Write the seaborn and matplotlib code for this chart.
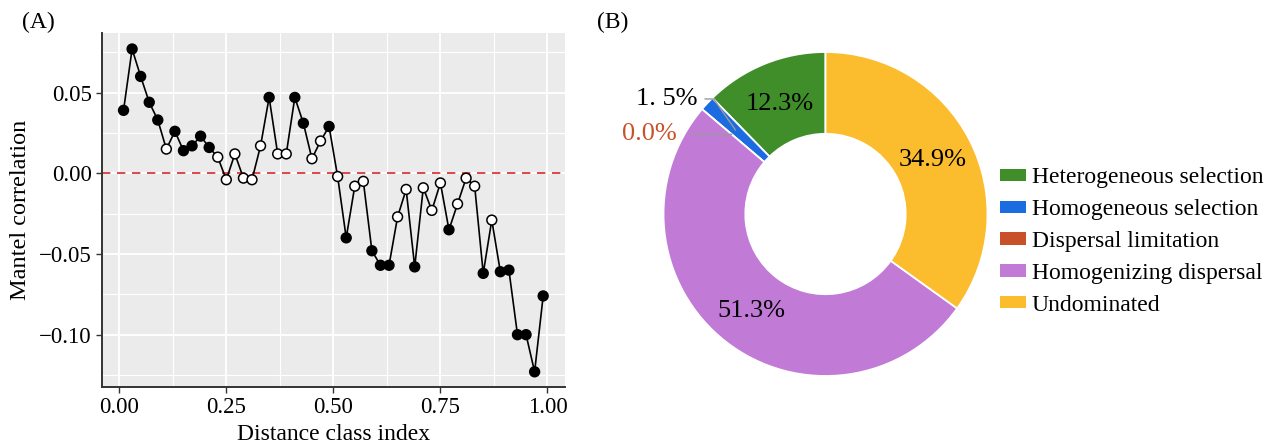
import matplotlib
matplotlib.use("Agg")
import matplotlib.pyplot as plt
from matplotlib.patches import Patch
from matplotlib.ticker import MultipleLocator, FuncFormatter
import numpy as np
import pandas as pd
import seaborn as sns

# ---- (A) Mantel correlogram ----
distance_class = [0.01, 0.03, 0.05, 0.07, 0.09, 0.11, 0.13, 0.15, 0.17, 0.19,
                  0.21, 0.23, 0.25, 0.27, 0.29, 0.31, 0.33, 0.35, 0.37, 0.39,
                  0.41, 0.43, 0.45, 0.47, 0.49, 0.51, 0.53, 0.55, 0.57, 0.59,
                  0.61, 0.63, 0.65, 0.67, 0.69, 0.71, 0.73, 0.75, 0.77, 0.79,
                  0.81, 0.83, 0.85, 0.87, 0.89, 0.91, 0.93, 0.95, 0.97, 0.99]
mantel_r = [0.039, 0.077, 0.060, 0.044, 0.033, 0.015, 0.026, 0.014, 0.017, 0.023,
            0.016, 0.010, -0.004, 0.012, -0.003, -0.004, 0.017, 0.047, 0.012, 0.012,
            0.047, 0.031, 0.009, 0.020, 0.029, -0.002, -0.040, -0.008, -0.005, -0.048,
            -0.057, -0.057, -0.027, -0.010, -0.058, -0.009, -0.023, -0.006, -0.035, -0.019,
            -0.003, -0.008, -0.062, -0.029, -0.061, -0.060, -0.100, -0.100, -0.123, -0.076]
significant = [1, 1, 1, 1, 1, 0, 1, 1, 1, 1,
               1, 0, 0, 0, 0, 0, 0, 1, 0, 0,
               1, 1, 0, 0, 1, 0, 1, 0, 0, 1,
               1, 1, 0, 0, 1, 0, 0, 0, 1, 0,
               0, 0, 1, 0, 1, 1, 1, 1, 1, 1]

# ---- (B) community assembly processes ----
processes = ["Heterogeneous selection", "Homogeneous selection",
             "Dispersal limitation", "Homogenizing dispersal", "Undominated"]
shares = [12.3, 1.5, 0.0, 51.3, 34.9]
process_colors = ["#3f8e2a", "#1b6ce0", "#c8512a", "#c27ad7", "#fbbd2e"]

sns.set_theme(style="darkgrid")
plt.rcParams["font.family"] = ["Liberation Serif", "DejaVu Serif"]
plt.rcParams["axes.unicode_minus"] = True
plt.rcParams["text.color"] = "black"
plt.rcParams["axes.labelcolor"] = "black"
plt.rcParams["xtick.color"] = "black"
plt.rcParams["ytick.color"] = "black"

fig = plt.figure(figsize=(12.76, 4.48), dpi=100)

# correlogram panel
ax = fig.add_axes([0.0797, 0.1355, 0.3631, 0.7908])
ax.set_facecolor("#ebebeb")
df = pd.DataFrame({"distance": distance_class, "mantel": mantel_r,
                   "sig": [bool(s) for s in significant]})
ax.axhline(0, color="#d42a2a", lw=1.2, ls=(0, (5, 4)), zorder=1.5)
sns.lineplot(data=df, x="distance", y="mantel", color="black", lw=1.2,
             ax=ax, zorder=2)
sns.scatterplot(data=df, x="distance", y="mantel", hue="sig",
                palette={True: "black", False: "white"}, edgecolor="black",
                linewidth=1.1, s=50, legend=False, ax=ax, zorder=3)

ax.xaxis.set_major_locator(MultipleLocator(0.25))
ax.xaxis.set_minor_locator(MultipleLocator(0.125))
ax.yaxis.set_major_locator(MultipleLocator(0.05))
ax.yaxis.set_minor_locator(MultipleLocator(0.025))
ax.xaxis.set_major_formatter(FuncFormatter(lambda v, pos: f"{v:.2f}"))
ax.yaxis.set_major_formatter(FuncFormatter(
    lambda v, pos: "0.00" if abs(v) < 1e-9 else f"{v:.2f}".replace("-", "\u2212")))
ax.set_xlim(-0.041, 1.041)
ax.set_ylim(-0.1326, 0.0869)
ax.grid(which="major", color="white", lw=1.3)
ax.grid(which="minor", color="white", lw=0.8)
for side in ["top", "right"]:
    ax.spines[side].set_visible(False)
for side in ["left", "bottom"]:
    ax.spines[side].set_visible(True)
    ax.spines[side].set_color("#333333")
    ax.spines[side].set_linewidth(1.4)
ax.tick_params(which="major", direction="out", length=4, width=1.0,
               color="#333333", labelsize=16.5, labelcolor="black", pad=3,
               bottom=True, left=True)
ax.tick_params(which="minor", length=0)
ax.set_xlabel("Distance class index", fontsize=17, labelpad=4)
ax.set_ylabel("Mantel correlation", fontsize=17.5, labelpad=6)
fig.text(0.017, 0.95, "(A)", fontsize=17, va="center", ha="left")

# donut panel
axp = fig.add_axes([663.5 / 1276, 72 / 448, 324 / 1276, 324 / 448])
wedges, _ = axp.pie(shares, colors=process_colors, startangle=90,
                    counterclock=True, radius=1.0,
                    wedgeprops=dict(width=0.505, edgecolor="white", linewidth=1.3))
axp.set_xlim(-1, 1)
axp.set_ylim(-1, 1)
axp.set_aspect("auto")
axp.axis("off")

# percentage labels inside the ring
total = sum(shares)
start = 90.0
mid_angles = []
for v in shares:
    span = 360.0 * v / total
    mid_angles.append(start + span / 2)
    start += span
for v, ang in zip(shares, mid_angles):
    if v >= 5:
        r = 0.745
        axp.text(r * np.cos(np.radians(ang)), r * np.sin(np.radians(ang)) - 0.01,
                 f"{v:.1f}%", ha="center", va="center", fontsize=19, color="black")

# callouts for the thin slices
blue_ang = np.radians(mid_angles[1])
axp.annotate("1. 5%", xy=(0.76 * np.cos(blue_ang), 0.76 * np.sin(blue_ang)),
             xytext=(-0.79, 0.71), ha="right", va="center", fontsize=19,
             color="black", annotation_clip=False,
             arrowprops=dict(arrowstyle="-", color="#9a9a9a", lw=1.0,
                             relpos=(1, 0.5), shrinkA=3, shrinkB=0,
                             connectionstyle="angle,angleA=0,angleB=-55,rad=0"))
red_ang = np.radians(mid_angles[2])
red_xy = (0.76 * np.cos(red_ang), 0.76 * np.sin(red_ang))
axp.annotate("0.0%", xy=red_xy, xytext=(-0.92, red_xy[1]), ha="right",
             va="center", fontsize=19, color="#c8512a", annotation_clip=False,
             arrowprops=dict(arrowstyle="-", color="#9a9a9a", lw=1.0,
                             relpos=(1, 0.5), shrinkA=9, shrinkB=0))
fig.text(0.468, 0.95, "(B)", fontsize=17, va="center", ha="left")

handles = [Patch(facecolor=c, edgecolor="none") for c in process_colors]
fig.legend(handles, processes, loc="center left",
           bbox_to_anchor=(1000 / 1276, 0.461), frameon=False, fontsize=17,
           handlelength=1.1, handleheight=0.42, handletextpad=0.25,
           labelspacing=0.46, borderpad=0, borderaxespad=0, labelcolor="black")

fig.savefig("out.png", dpi=100)
